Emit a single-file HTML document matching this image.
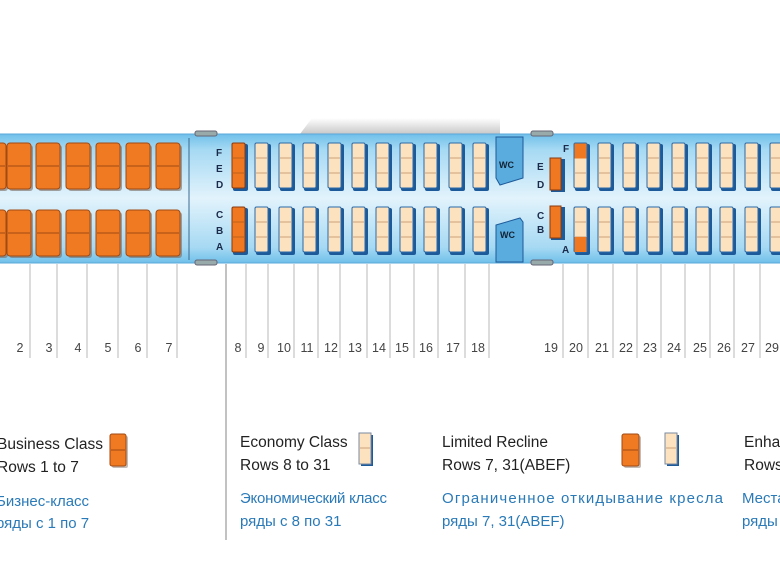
<!DOCTYPE html>
<html><head><meta charset="utf-8"><style>
html,body{margin:0;padding:0;background:#fff;width:780px;height:574px;overflow:hidden}
svg{display:block}
.n{font-family:"Liberation Sans",sans-serif;font-size:12.5px;fill:#444}
.l{font-family:"Liberation Sans",sans-serif;font-size:15.5px;fill:#222}
.r{font-family:"Liberation Sans","DejaVu Sans",sans-serif;font-size:15px;fill:#2a7ab8}
.s{font-family:"Liberation Sans",sans-serif;font-size:10px;font-weight:bold;fill:#1a2a4a}
</style></head><body>
<svg width="780" height="574" viewBox="0 0 780 574" xmlns="http://www.w3.org/2000/svg">
<defs>
<linearGradient id="fus" x1="0" y1="0" x2="0" y2="1">
<stop offset="0" stop-color="#6fc0ea"/><stop offset="0.12" stop-color="#a6d9f3"/><stop offset="0.5" stop-color="#e2f3fc"/><stop offset="0.88" stop-color="#a6d9f3"/><stop offset="1" stop-color="#6fc0ea"/>
</linearGradient>
<linearGradient id="gr" x1="0" y1="0" x2="0" y2="1"><stop offset="0" stop-color="#fff"/><stop offset="1" stop-color="#c8c8c8"/></linearGradient>
<g id="e"><rect x="1" y="1" width="15" height="47" rx="2" fill="#1d5a9a"/><rect x="0" y="0" width="13" height="45" rx="1.5" fill="#fde2c0" stroke="#2a6aa8" stroke-width="1"/><line x1="1" y1="15" x2="12" y2="15" stroke="#c9a27a"/><line x1="1" y1="30" x2="12" y2="30" stroke="#c9a27a"/></g>
<g id="eo"><rect x="1" y="1" width="15" height="47" rx="2" fill="#1d5a9a"/><rect x="0" y="0" width="13" height="45" rx="1.5" fill="#f07820" stroke="#8a3a10" stroke-width="1"/><line x1="1" y1="15" x2="12" y2="15" stroke="#c0601a"/><line x1="1" y1="30" x2="12" y2="30" stroke="#c0601a"/></g>
<g id="b"><rect x="2" y="2" width="24" height="46" rx="3" fill="#7a6a60" opacity="0.6"/><rect x="0" y="0" width="24" height="46" rx="3" fill="#f07a22" stroke="#a04a14" stroke-width="1"/><line x1="1" y1="23" x2="23" y2="23" stroke="#a04a14"/></g>
</defs>
<polygon points="300,134 312,118 500,118 500,134" fill="url(#gr)"/>
<rect x="0" y="134" width="780" height="129" fill="url(#fus)"/>
<line x1="0" y1="134" x2="780" y2="134" stroke="#5aa8d8"/>
<line x1="0" y1="263" x2="780" y2="263" stroke="#5aa8d8"/>
<line x1="189" y1="138" x2="189" y2="260" stroke="#3a6a90"/>
<rect x="195" y="131" width="22" height="5" rx="2" fill="#9aa" stroke="#667"/>
<rect x="195" y="260" width="22" height="5" rx="2" fill="#9aa" stroke="#667"/>
<rect x="531" y="131" width="22" height="5" rx="2" fill="#9aa" stroke="#667"/>
<rect x="531" y="260" width="22" height="5" rx="2" fill="#9aa" stroke="#667"/>
<use href="#b" x="-18" y="143"/><use href="#b" x="7" y="143"/><use href="#b" x="36" y="143"/><use href="#b" x="66" y="143"/><use href="#b" x="96" y="143"/><use href="#b" x="126" y="143"/><use href="#b" x="156" y="143"/>
<use href="#b" x="-18" y="210"/><use href="#b" x="7" y="210"/><use href="#b" x="36" y="210"/><use href="#b" x="66" y="210"/><use href="#b" x="96" y="210"/><use href="#b" x="126" y="210"/><use href="#b" x="156" y="210"/>
<text class="s" x="216" y="156">F</text><text class="s" x="216" y="172">E</text><text class="s" x="216" y="188">D</text>
<text class="s" x="216" y="218">C</text><text class="s" x="216" y="234">B</text><text class="s" x="216" y="250">A</text>
<use href="#eo" x="232" y="143"/><use href="#e" x="255" y="143"/><use href="#e" x="279" y="143"/><use href="#e" x="303" y="143"/><use href="#e" x="328" y="143"/><use href="#e" x="352" y="143"/><use href="#e" x="376" y="143"/><use href="#e" x="400" y="143"/><use href="#e" x="424" y="143"/><use href="#e" x="449" y="143"/><use href="#e" x="473" y="143"/>
<use href="#eo" x="232" y="207"/><use href="#e" x="255" y="207"/><use href="#e" x="279" y="207"/><use href="#e" x="303" y="207"/><use href="#e" x="328" y="207"/><use href="#e" x="352" y="207"/><use href="#e" x="376" y="207"/><use href="#e" x="400" y="207"/><use href="#e" x="424" y="207"/><use href="#e" x="449" y="207"/><use href="#e" x="473" y="207"/>
<polygon points="496,137 523,137 523,178 500,185 496,178" fill="#5aacdf" stroke="#1d5a9a"/>
<text x="499" y="168" font-family="Liberation Sans,sans-serif" font-size="9" font-weight="bold" fill="#123">WC</text>
<polygon points="496,225 520,218 523,222 523,262 496,262" fill="#5aacdf" stroke="#1d5a9a"/>
<text x="500" y="238" font-family="Liberation Sans,sans-serif" font-size="9" font-weight="bold" fill="#123">WC</text>
<text class="s" x="537" y="170">E</text><text class="s" x="537" y="188">D</text><text class="s" x="563" y="152">F</text>
<text class="s" x="537" y="219">C</text><text class="s" x="537" y="233">B</text><text class="s" x="562" y="253">A</text>
<rect x="551" y="159" width="14" height="33" fill="#1d5a9a"/><rect x="550" y="158" width="11" height="32" fill="#f07820" stroke="#8a3a10"/>
<rect x="551" y="207" width="14" height="33" fill="#1d5a9a"/><rect x="550" y="206" width="11" height="32" fill="#f07820" stroke="#8a3a10"/>
<use href="#e" x="574" y="143"/><rect x="574.5" y="143.5" width="12" height="15" fill="#f07820"/>
<use href="#e" x="598" y="143"/><use href="#e" x="623" y="143"/><use href="#e" x="647" y="143"/><use href="#e" x="672" y="143"/><use href="#e" x="696" y="143"/><use href="#e" x="720" y="143"/><use href="#e" x="745" y="143"/><use href="#e" x="770" y="143"/>
<use href="#e" x="574" y="207"/><rect x="574.5" y="237" width="12" height="15" fill="#f07820"/>
<use href="#e" x="598" y="207"/><use href="#e" x="623" y="207"/><use href="#e" x="647" y="207"/><use href="#e" x="672" y="207"/><use href="#e" x="696" y="207"/><use href="#e" x="720" y="207"/><use href="#e" x="745" y="207"/><use href="#e" x="770" y="207"/>
<g stroke="#c4c4c4" stroke-width="1.2">
<line x1="30" y1="264" x2="30" y2="358"/><line x1="57" y1="264" x2="57" y2="358"/><line x1="87" y1="264" x2="87" y2="358"/><line x1="118" y1="264" x2="118" y2="358"/><line x1="147" y1="264" x2="147" y2="358"/><line x1="177" y1="264" x2="177" y2="358"/>
<line x1="246" y1="264" x2="246" y2="358"/><line x1="268" y1="264" x2="268" y2="358"/><line x1="294" y1="264" x2="294" y2="358"/><line x1="318" y1="264" x2="318" y2="358"/><line x1="340" y1="264" x2="340" y2="358"/><line x1="367" y1="264" x2="367" y2="358"/><line x1="390" y1="264" x2="390" y2="358"/><line x1="414" y1="264" x2="414" y2="358"/><line x1="438" y1="264" x2="438" y2="358"/><line x1="465" y1="264" x2="465" y2="358"/><line x1="489" y1="264" x2="489" y2="358"/>
<line x1="563" y1="264" x2="563" y2="358"/><line x1="588" y1="264" x2="588" y2="358"/><line x1="613" y1="264" x2="613" y2="358"/><line x1="637" y1="264" x2="637" y2="358"/><line x1="661" y1="264" x2="661" y2="358"/><line x1="685" y1="264" x2="685" y2="358"/><line x1="710" y1="264" x2="710" y2="358"/><line x1="734" y1="264" x2="734" y2="358"/><line x1="760" y1="264" x2="760" y2="358"/>
</g>
<line x1="226" y1="264" x2="226" y2="540" stroke="#999" stroke-width="1.2"/>
<g class="n" text-anchor="middle">
<text x="20" y="352">2</text><text x="49" y="352">3</text><text x="78" y="352">4</text><text x="108" y="352">5</text><text x="138" y="352">6</text><text x="169" y="352">7</text>
<text x="238" y="352">8</text><text x="261" y="352">9</text><text x="284" y="352">10</text><text x="307" y="352">11</text><text x="331" y="352">12</text><text x="355" y="352">13</text><text x="379" y="352">14</text><text x="402" y="352">15</text><text x="426" y="352">16</text><text x="453" y="352">17</text><text x="478" y="352">18</text>
<text x="551" y="352">19</text><text x="576" y="352">20</text><text x="602" y="352">21</text><text x="626" y="352">22</text><text x="650" y="352">23</text><text x="674" y="352">24</text><text x="700" y="352">25</text><text x="724" y="352">26</text><text x="748" y="352">27</text><text x="772" y="352">29</text>
</g>
<text class="l" x="-3" y="449">Business Class</text><text class="l" x="-3" y="472">Rows 1 to 7</text>
<text class="r" x="-4" y="506">Бизнес-класс</text><text class="r" x="-4" y="528">ряды с 1 по 7</text>
<rect x="112" y="436" width="16" height="32" rx="2" fill="#8a7a70" opacity="0.5"/><rect x="110" y="434" width="16" height="32" rx="2" fill="#f07a22" stroke="#a04a14"/><line x1="111" y1="450" x2="125" y2="450" stroke="#a04a14"/>
<text class="l" x="240" y="447">Economy Class</text><text class="l" x="240" y="470">Rows  8 to 31</text>
<text class="r" x="240" y="503" textLength="147">Экономический  класс</text><text class="r" x="240" y="526">ряды с  8 по 31</text>
<rect x="361" y="435" width="12" height="31" fill="#1d5a9a"/><rect x="359" y="433" width="12" height="31" fill="#fde2c0" stroke="#7a8aa0"/><line x1="360" y1="448" x2="370" y2="448" stroke="#c9a27a"/>
<text class="l" x="442" y="447">Limited Recline</text><text class="l" x="442" y="470">Rows 7, 31(ABEF)</text>
<text class="r" x="442" y="503" textLength="281">Ограниченное откидывание кресла</text><text class="r" x="442" y="526">ряды 7, 31(ABEF)</text>
<rect x="624" y="436" width="17" height="32" rx="2" fill="#8a7a70" opacity="0.5"/><rect x="622" y="434" width="17" height="32" rx="2" fill="#f07a22" stroke="#a04a14"/><line x1="623" y1="450" x2="638" y2="450" stroke="#a04a14"/>
<rect x="667" y="435" width="12" height="31" fill="#1d5a9a"/><rect x="665" y="433" width="12" height="31" fill="#fde2c0" stroke="#7a8aa0"/><line x1="666" y1="448" x2="676" y2="448" stroke="#c9a27a"/>
<text class="l" x="744" y="447">Enhanced</text><text class="l" x="744" y="470">Rows</text>
<text class="r" x="742" y="503">Места</text><text class="r" x="742" y="526">ряды</text>
</svg>
</body></html>
